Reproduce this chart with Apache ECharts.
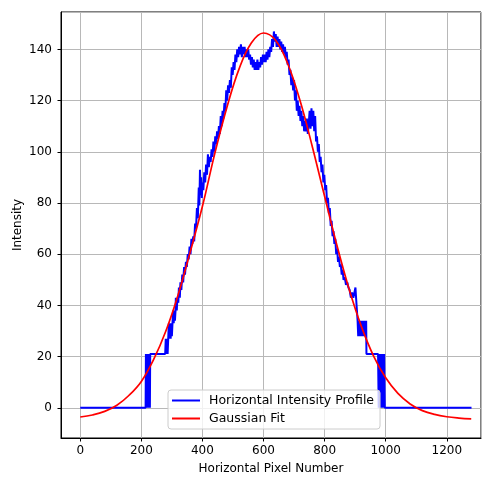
<!DOCTYPE html>
<html>
<head>
<meta charset="utf-8">
<script src="https://cdn.jsdelivr.net/npm/echarts@6/dist/echarts.min.js"></script>
<style>
  html, body { margin: 0; padding: 0; background: #fff; }
  #chart { width: 482px; height: 482px; }
</style>
</head>
<body>
<div id="chart"></div>
<script>
// horizontal intensity profile
const pixelNumber = [
  0, 214,
  215, 216, 217, 218, 219, 220, 221, 222, 223, 224, 225, 226, 227, 228, 229,
  278,
  280, 282, 284, 286, 288, 290, 292, 294, 296, 298, 300, 302, 304, 306, 308, 310, 312,
  313, 316, 318, 321, 323, 326, 328, 331, 334, 337, 340, 343, 346, 349, 352, 355, 358, 361, 364, 367,
  370, 373, 376, 379, 382, 385, 388, 390, 392, 394, 396, 398, 400, 403, 406, 409, 412, 415, 418, 421,
  424, 427, 430, 433, 436, 439, 442, 445, 448, 451, 454, 457, 460, 463, 466, 469, 472, 475, 478, 481,
  484, 487, 490, 493, 496, 499, 502, 505, 508, 511, 514, 517, 520, 523, 526, 529, 532, 535, 538, 541,
  544, 547, 550, 553, 556, 559, 562, 565, 568, 571, 574, 577, 580, 583, 586, 589, 592, 595, 598, 601,
  604, 607, 610, 613, 616, 619, 622, 625, 628, 631, 634, 637, 640, 643, 646, 649, 652, 655, 658, 661,
  664, 667, 670, 673, 676, 679, 682, 685, 688, 691, 694, 697, 700, 703, 706, 709, 712, 715, 718, 721,
  724, 727, 730, 733, 736, 739, 742, 745, 748, 751, 754, 757, 760, 763, 766, 769, 772, 775, 778, 781,
  784, 787, 790, 793, 796, 799, 802, 805, 808, 811, 814, 817, 820, 823, 826, 829, 832, 835, 838, 841,
  844, 847, 850, 853, 856, 859, 862, 866, 870, 874, 878, 882, 886, 890, 894, 898, 901, 903, 906,
  908, 910, 912, 914, 916, 918, 920, 922, 924, 926, 928, 930, 932, 934, 936,
  937, 975,
  977, 979, 981, 983, 985, 987, 989, 991, 993, 995, 997, 998, 1281
]
const intensity = [
  0, 0,
  21, 0, 21, 0, 21, 0, 21, 0, 21, 0, 21, 0, 21, 0, 21,
  21,
  27, 21, 27, 21, 27, 33, 27, 33, 27, 33, 28, 33, 38, 33, 38, 34, 38,
  43, 38, 43, 41, 47, 43, 49, 46, 52, 49, 55, 52, 57, 55, 60, 58, 63, 60, 66, 64,
  67, 65, 72, 70, 78, 74, 86, 79, 93, 83, 90, 82, 88, 85, 92, 88, 95, 91, 99, 94,
  98, 96, 101, 98, 104, 100, 106, 103, 108, 105, 110, 107, 114, 110, 116, 113, 119, 116, 124, 120,
  126, 123, 128, 125, 133, 130, 135, 132, 138, 135, 140, 137, 141, 138, 142, 137, 141, 138, 141, 137,
  140, 137, 140, 136, 138, 134, 137, 133, 136, 132, 135, 132, 136, 132, 135, 133, 137, 134, 138, 135,
  138, 135, 139, 136, 140, 137, 141, 139, 144, 141, 147, 143, 146, 141, 145, 141, 144, 140, 143, 139,
  142, 138, 141, 137, 139, 134, 136, 130, 132, 126, 129, 124, 128, 120, 124, 116, 120, 114, 118, 112,
  116, 110, 114, 108, 112, 108, 113, 107, 111, 116, 109, 117, 110, 116, 108, 114, 104, 106, 100, 103,
  96, 98, 92, 95, 88, 91, 85, 87, 80, 82, 76, 78, 71, 73, 67, 69, 64, 66, 60, 62,
  57, 59, 55, 56, 52, 54, 50, 51, 48, 49, 47, 46, 43, 45, 43, 43, 47, 43, 43,
  34, 28, 34, 28, 34, 28, 34, 28, 34, 28, 34, 28, 34, 28, 34,
  21, 21,
  0, 21, 0, 21, 0, 21, 0, 21, 0, 21, 0, 0, 0
]

// gaussian fit curve, sampled every 40 px
const fitX = [0, 40, 80, 120, 160, 200, 240, 280, 320, 360, 400, 440, 480, 520, 560, 600,
  640, 680, 720, 760, 800, 840, 880, 920, 960, 1000, 1040, 1080, 1120, 1160, 1200, 1240, 1280]
const fitY = [-3.6, -2.8, -1.4, 1.0, 4.9, 10.3, 18.8, 29.9, 44.0, 60.9, 78.7, 99.1, 117.3, 132.4, 142.5, 146.4,
  143.5, 134.2, 119.8, 101.9, 82.6, 63.6, 46.4, 31.9, 20.3, 11.7, 5.6, 1.5, -1.1, -2.6, -3.5, -4.0, -4.3]

const font = 'DejaVu Sans'

const chart = echarts.init(document.getElementById('chart'), null, { renderer: 'canvas' })
chart.setOption({
  animation: false,
  backgroundColor: '#fff',
  textStyle: { fontFamily: font, color: '#000' },
  grid: {
    left: 61,
    right: 1,
    top: 12,
    bottom: 44,
    show: true,
    borderColor: '#000',
    borderWidth: 1
  },
  legend: {
    left: 168,
    top: 390,
    orient: 'vertical',
    padding: [4, 6, 4, 4],
    itemGap: 5,
    itemWidth: 28,
    itemHeight: 2,
    backgroundColor: 'rgba(255,255,255,0.8)',
    borderColor: '#cccccc',
    borderWidth: 1,
    borderRadius: 3,
    textStyle: { fontFamily: font, fontSize: 12.5, color: '#000', padding: [0, 0, 0, 4] },
    data: [
      { name: 'Horizontal Intensity Profile', icon: 'rect' },
      { name: 'Gaussian Fit', icon: 'rect' }
    ]
  },
  xAxis: {
    type: 'value',
    min: -63,
    max: 1312,
    splitNumber: 7,
    minInterval: 200,
    maxInterval: 200,
    name: 'Horizontal Pixel Number',
    nameLocation: 'middle',
    nameGap: 25,
    nameMoveOverlap: false,
    nameTextStyle: { fontFamily: font, fontSize: 12, color: '#000' },
    axisLine: { onZero: false, lineStyle: { color: '#000', width: 1 } },
    axisTick: { show: true, length: 3.5, lineStyle: { color: '#000' } },
    axisLabel: {
      fontFamily: font, fontSize: 12, color: '#000', margin: 7,
      showMinLabel: false, showMaxLabel: false,
      formatter: v => String(v)
    },
    splitLine: { show: true, lineStyle: { color: '#b8b8b8', width: 1 } }
  },
  yAxis: {
    type: 'value',
    min: -11.8,
    max: 154.6,
    splitNumber: 8,
    minInterval: 20,
    maxInterval: 20,
    name: 'Intensity',
    nameLocation: 'middle',
    nameGap: 37,
    nameMoveOverlap: false,
    nameTextStyle: { fontFamily: font, fontSize: 12, color: '#000' },
    axisLine: { show: true, onZero: false, lineStyle: { color: '#000', width: 1 } },
    axisTick: { show: true, length: 3.5, lineStyle: { color: '#000' } },
    axisLabel: {
      fontFamily: font, fontSize: 12, color: '#000', margin: 9,
      showMinLabel: false, showMaxLabel: false,
      formatter: v => String(v)
    },
    splitLine: { show: true, lineStyle: { color: '#b8b8b8', width: 1 } }
  },
  series: [
    {
      name: 'Horizontal Intensity Profile',
      type: 'line',
      symbol: 'none',
      sampling: null,
      color: '#0000ff',
      lineStyle: { color: '#0000ff', width: 2 },
      data: pixelNumber.map((x, i) => [x, intensity[i]])
    },
    {
      name: 'Gaussian Fit',
      type: 'line',
      symbol: 'none',
      smooth: 0.4,
      color: '#ff0000',
      lineStyle: { color: '#ff0000', width: 1.7 },
      data: fitX.map((x, i) => [x, fitY[i]])
    }
  ]
})
</script>
</body>
</html>
